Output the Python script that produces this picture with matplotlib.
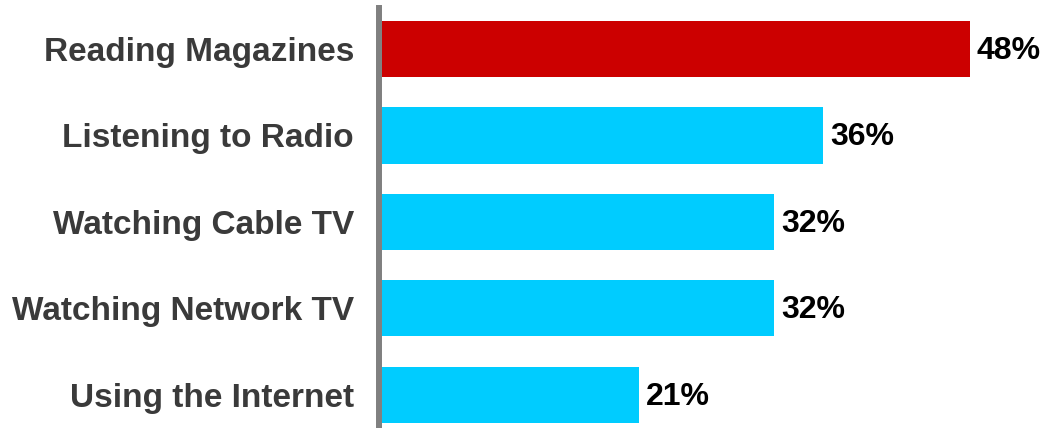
import matplotlib
matplotlib.use("Agg")
import matplotlib.pyplot as plt

categories = ["Reading Magazines", "Listening to Radio", "Watching Cable TV",
              "Watching Network TV", "Using the Internet"]
values = [48, 36, 32, 32, 21]
bar_colors = ["#CC0000", "#00CCFF", "#00CCFF", "#00CCFF", "#00CCFF"]

plt.rcParams["font.family"] = ["Liberation Sans", "DejaVu Sans"]

W, H = 1045, 428
fig = plt.figure(figsize=(W / 100, H / 100), dpi=100)
left_px, top_px = 382, 8
ax = fig.add_axes([left_px / W, 0, 1 - left_px / W, (H - top_px) / H])

for s in ["top", "right", "bottom"]:
    ax.spines[s].set_visible(False)
ax.spines["left"].set_color("#808080")
ax.spines["left"].set_linewidth(4.3)
ax.spines["left"].set_position(("outward", 2.2))

pos = list(range(len(categories)))
ax.barh(pos, values, height=0.65, color=bar_colors, edgecolor="none")

ax.set_xlim(0, (W - left_px) / 12.25)
ax.set_ylim(4.385, -0.474)

for p, v in zip(pos, values):
    ax.annotate(f"{v}%", xy=(v, p), xytext=(5, -1.5), textcoords="offset points",
                ha="left", va="center", fontsize=23, fontweight="bold",
                color="black")

ax.set_xticks([])
ax.set_yticks(pos)
ax.set_yticklabels(categories, fontsize=24, fontweight="bold", color="#3a3a3a")
ax.tick_params(axis="y", length=0, pad=18)

fig.savefig("out.png", dpi=100)
